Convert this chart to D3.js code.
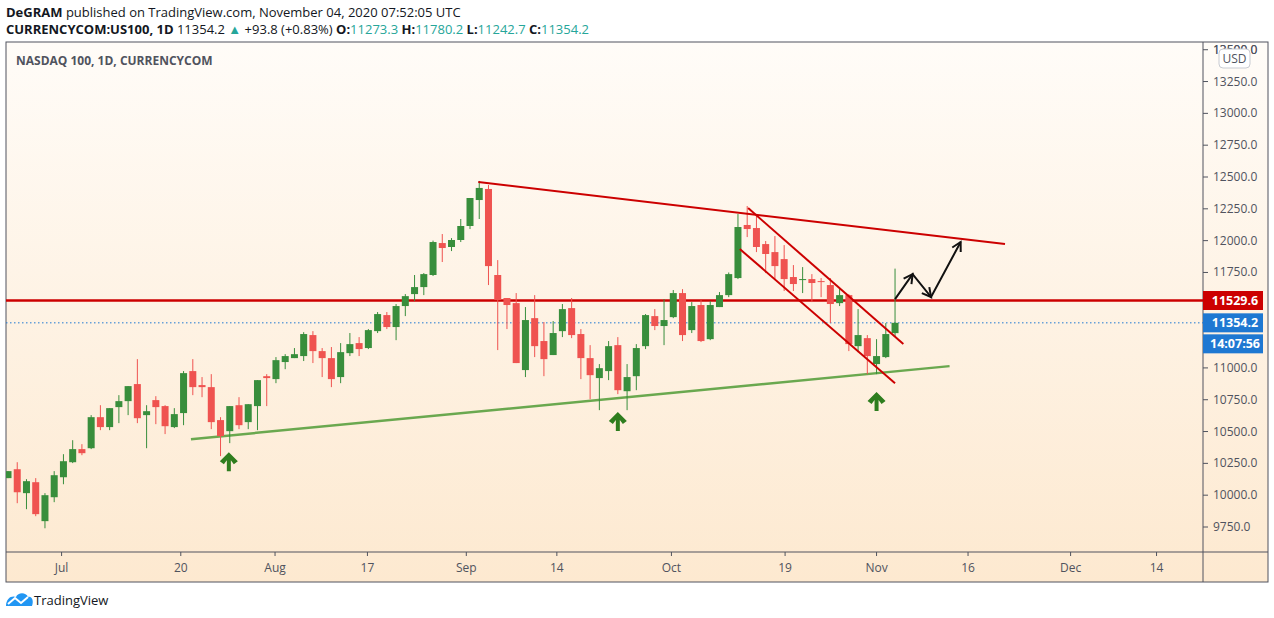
<!DOCTYPE html>
<html><head><meta charset="utf-8">
<script src="https://cdn.jsdelivr.net/npm/d3@7"></script>
<style>body{margin:0;background:#fff;font-family:"Open Sans",Arial,sans-serif}</style>
</head><body><svg id="c" width="1274" height="618"></svg>
<script>
const opens  = [10134,10204,10016,10102,9796,9984,10141,10259,10362,10369,10613,10535,10692,10739,10873,10629,10747,10700,10535,10645,10975,10865,10849,10590,10503,10707,10574,10700,10935,10912,11046,11077,11093,11258,11132,11077,10928,11116,11195,11156,11289,11415,11321,11486,11580,11635,11730,11981,11950,12005,12115,12319,12406,11730,11549,11509,10983,11391,11211,11101,11289,11470,11266,11077,10920,10975,11179,10817,10935,11171,11407,11329,11399,11588,11297,11494,11226,11478,11572,11706,12123,12099,11973,11910,11855,11714,11690,11698,11682,11651,11509,11572,11171,11234,11030,11085,11273.3];
const highs  = [10189,10259,10126,10134,10016,10189,10322,10432,10401,10629,10707,10684,10786,10857,11069,10707,10778,10707,10684,10975,11069,10928,10951,10613,10700,10770,10715,10904,10951,11085,11108,11156,11281,11289,11156,11164,11195,11274,11242,11305,11439,11439,11502,11580,11730,11745,12000,12052,12020,12170,12335,12469,12437,11847,11549,11588,11478,11572,11360,11368,11502,11549,11305,11179,11030,11211,11242,11030,11187,11423,11462,11541,11612,11619,11517,11533,11525,11596,11750,12209,12272,12201,11997,12036,11965,11808,11792,11737,11706,11706,11627,11580,11462,11258,11226,11352,11780.2];
const lows   = [10134,9937,9890,9835,9740,9945,10086,10252,10314,10362,10511,10511,10566,10629,10566,10369,10558,10480,10527,10550,10786,10770,10519,10307,10409,10519,10519,10511,10700,10880,10990,11077,11054,11038,10928,10849,10880,11093,11093,11148,11274,11305,11218,11407,11525,11572,11722,11832,11918,11989,12091,12170,11651,11140,11305,11038,10928,11085,10935,11101,11242,11234,10912,10754,10668,10904,10794,10668,10825,11148,11297,11179,11391,11211,11274,11203,11218,11478,11556,11698,12028,11910,11745,11698,11604,11604,11588,11517,11556,11352,11486,11132,11124,10951,10951,11077,11242.7];
const closes = [10189,10023,10110,9851,10000,10157,10267,10362,10330,10613,10535,10684,10739,10857,10605,10660,10692,10542,10637,10959,10849,10849,10574,10464,10700,10550,10715,10904,10920,11061,11093,11108,11266,11132,11077,10912,11124,11187,11148,11297,11423,11321,11486,11564,11635,11737,11989,11942,12005,12115,12335,12414,11800,11533,11494,11038,11376,11171,11069,11274,11462,11258,11077,10943,10998,11171,10825,10928,11156,11415,11329,11376,11588,11258,11486,11211,11494,11572,11737,12107,12091,11950,11895,11800,11698,11659,11698,11667,11675,11502,11572,11187,11258,11093,11093,11266,11354.2];
const priceTicks = [9750,10000,10250,10500,10750,11000,11250,11500,11750,12000,12250,12500,12750,13000,13250,13500];
const timeLabels = ["Jul","20","Aug","17","Sep","14","Oct","19","Nov","16","Dec","14"];
const timeIdx    = [5.8,18.7,28.9,38.9,49.6,59.4,71.8,84.1,94,103.9,115,124.3];
const resistLine = [[50.9,12461],[107.9,11973]];
const chanUpper  = [[80.1,12256],[96.9,11187]];
const chanLower  = [[79.2,11934],[96,10880]];
const supportLine= [[19.8,10440],[101.9,11014]];
const forecast   = [[96,11541],[97.9,11737],[99.9,11557],[103.1,11989]];
const upArrows   = [[23.9,10338],[66,10653],[94,10810]];
const levelPrice = 11529.6, lastPrice = 11354.2;

const svg = d3.select("#c");
const L=6, T=42, PR=1203, PB=552, R=1268, B=582;
const x = d3.scaleLinear().domain([0,130]).range([8,8+130*9.24]);
const y = d3.scaleLinear().domain([9750,12500]).range([527,177]);
const defs = svg.append("defs");
const g1 = defs.append("linearGradient").attr("id","bg").attr("x1",0).attr("y1",0).attr("x2",0).attr("y2",1);
g1.append("stop").attr("offset",0).attr("stop-color","#fffcf8");
g1.append("stop").attr("offset",1).attr("stop-color","#fde9d0");
defs.append("clipPath").attr("id","pc").append("rect").attr("x",L).attr("y",T).attr("width",PR-L).attr("height",PB-T);

svg.append("text").attr("x",6).attr("y",17).attr("font-size",13).attr("fill","#131722")
 .html('<tspan font-weight="bold">DeGRAM</tspan> published on TradingView.com, November 04, 2020 07:52:05 UTC');
const h2 = svg.append("text").attr("x",6).attr("y",34).attr("font-size",13).attr("fill","#131722");
h2.append("tspan").attr("font-weight","bold").text("CURRENCYCOM:US100, 1D");
h2.append("tspan").text("  11354.2 ");
h2.append("tspan").attr("fill","#26a69a").text("▲");
h2.append("tspan").text(" +93.8 (+0.83%) ");
[["O:","11273.3"],["H:","11780.2"],["L:","11242.7"],["C:","11354.2"]].forEach(([k,v])=>{
  h2.append("tspan").attr("font-weight","bold").text(k);
  h2.append("tspan").attr("fill","#26a69a").text(v+" ");
});

svg.append("rect").attr("x",L).attr("y",T).attr("width",R-L).attr("height",B-T).attr("fill","url(#bg)").attr("stroke","#50535e");
svg.append("line").attr("x1",PR).attr("x2",PR).attr("y1",T).attr("y2",B).attr("stroke","#50535e");
svg.append("line").attr("x1",L).attr("x2",R).attr("y1",PB).attr("y2",PB).attr("stroke","#50535e");
svg.append("text").attr("x",16).attr("y",65).attr("font-size",12).attr("font-weight","bold").attr("fill","#50535e").text("NASDAQ 100, 1D, CURRENCYCOM");

const plot = svg.append("g").attr("clip-path","url(#pc)");
plot.append("line").attr("x1",L).attr("x2",PR).attr("y1",y(lastPrice)).attr("y2",y(lastPrice)).attr("stroke","#1e78d2").attr("stroke-dasharray","1.5,2.5").attr("stroke-width",1);
plot.append("line").attr("x1",L).attr("x2",PR).attr("y1",y(levelPrice)).attr("y2",y(levelPrice)).attr("stroke","#cc0000").attr("stroke-width",2.5);
const seg=(p,c,w)=>plot.append("line").attr("x1",x(p[0][0])).attr("y1",y(p[0][1])).attr("x2",x(p[1][0])).attr("y2",y(p[1][1])).attr("stroke",c).attr("stroke-width",w);
seg(supportLine,"#6aa84f",2.5);

const data = opens.map((o,i)=>({i,o,h:highs[i],l:lows[i],c:closes[i]}));
const cg = plot.selectAll("g.k").data(data).join("g");
cg.append("line").attr("x1",d=>x(d.i)).attr("x2",d=>x(d.i)).attr("y1",d=>y(d.h)).attr("y2",d=>y(d.l))
 .attr("stroke",d=>d.c>=d.o?"#388e3c":"#ef5350").attr("stroke-width",1);
cg.append("rect").attr("x",d=>x(d.i)-3.5).attr("width",7).attr("y",d=>y(Math.max(d.o,d.c)))
 .attr("height",d=>Math.max(1,Math.abs(y(d.o)-y(d.c)))).attr("fill",d=>d.c>=d.o?"#388e3c":"#ef5350");

seg(resistLine,"#cc0000",2);
seg(chanUpper,"#cc0000",2);
seg(chanLower,"#cc0000",2);

const fp = forecast.map(p=>[x(p[0]),y(p[1])]);
plot.append("path").attr("d",d3.line()(fp)).attr("fill","none").attr("stroke","#111").attr("stroke-width",2);
for(let k=1;k<fp.length;k++){
  const [x0,y0]=fp[k-1],[x1,y1]=fp[k];
  const a=Math.atan2(y1-y0,x1-x0), s=10;
  const pts=[[x1-s*Math.cos(a-0.5),y1-s*Math.sin(a-0.5)],[x1,y1],[x1-s*Math.cos(a+0.5),y1-s*Math.sin(a+0.5)]];
  plot.append("path").attr("d",d3.line()(pts)).attr("fill","none").attr("stroke","#111").attr("stroke-width",2);
}
upArrows.forEach(([i,p])=>{
  const cx=x(i), ty=y(p);
  plot.append("path").attr("d",`M${cx-9},${ty+9} L${cx},${ty} L${cx+9},${ty+9} L${cx+5},${ty+12} L${cx+2},${ty+8} L${cx+2},${ty+19} L${cx-2},${ty+19} L${cx-2},${ty+8} L${cx-5},${ty+12} Z`)
   .attr("fill","#2e7d1e");
});

const pa = svg.append("g");
const tagYs=[y(levelPrice),y(lastPrice),y(lastPrice)+21];
priceTicks.forEach(v=>{
  const yy=y(v); if(yy<T||yy>PB) return;
  pa.append("line").attr("x1",PR).attr("x2",PR+5).attr("y1",yy).attr("y2",yy).attr("stroke","#50535e");
  if(tagYs.some(t=>Math.abs(t-yy)<16)) return;
  if(yy<T+4) return;
  pa.append("text").attr("x",PR+10).attr("y",yy+4).attr("font-size",12).attr("fill","#50535e").text(d3.format(".1f")(v));
});
pa.append("text").attr("x",PR+10).attr("y",y(13500)+4).attr("font-size",12).attr("fill","#50535e").text("13500.0");
pa.append("rect").attr("x",1219).attr("y",49).attr("width",31).attr("height",19).attr("rx",4).attr("fill","#fff").attr("stroke","#c8cbd2");
pa.append("text").attr("x",1234.5).attr("y",63).attr("text-anchor","middle").attr("font-size",12).attr("fill","#50535e").text("USD");
const tag=(yc,h,col,t)=>{pa.append("rect").attr("x",PR).attr("y",yc-h/2).attr("width",60).attr("height",h).attr("fill",col);
  pa.append("text").attr("x",PR+32).attr("y",yc+4.5).attr("text-anchor","middle").attr("font-size",12.5).attr("font-weight","bold").attr("fill","#fff").text(t);};
tag(tagYs[0],19,"#cc0000","11529.6");
tag(tagYs[1],19,"#1e78d2","11354.2");
tag(tagYs[2],19,"#1e78d2","14:07:56");

timeIdx.forEach((v,k)=>{
  const xx=x(v);
  svg.append("line").attr("x1",xx).attr("x2",xx).attr("y1",PB).attr("y2",PB+4).attr("stroke","#50535e");
  svg.append("text").attr("x",xx).attr("y",PB+20).attr("text-anchor","middle").attr("font-size",12).attr("fill","#50535e").text(timeLabels[k]);
});

const lg=svg.append("g").attr("transform","translate(6,592)");
lg.append("path").attr("d","M0,14 C0,6 6,3 10,5 C12,0 20,0 22,5 C26,4 28,9 26,14 Z").attr("fill","#2196f3");
lg.append("path").attr("d","M2,12 L9,6 L15,11 L22,5").attr("fill","none").attr("stroke","#fff").attr("stroke-width",2);
svg.append("text").attr("x",34).attr("y",605).attr("font-size",13).attr("fill","#131722").text("TradingView");
</script></body></html>
